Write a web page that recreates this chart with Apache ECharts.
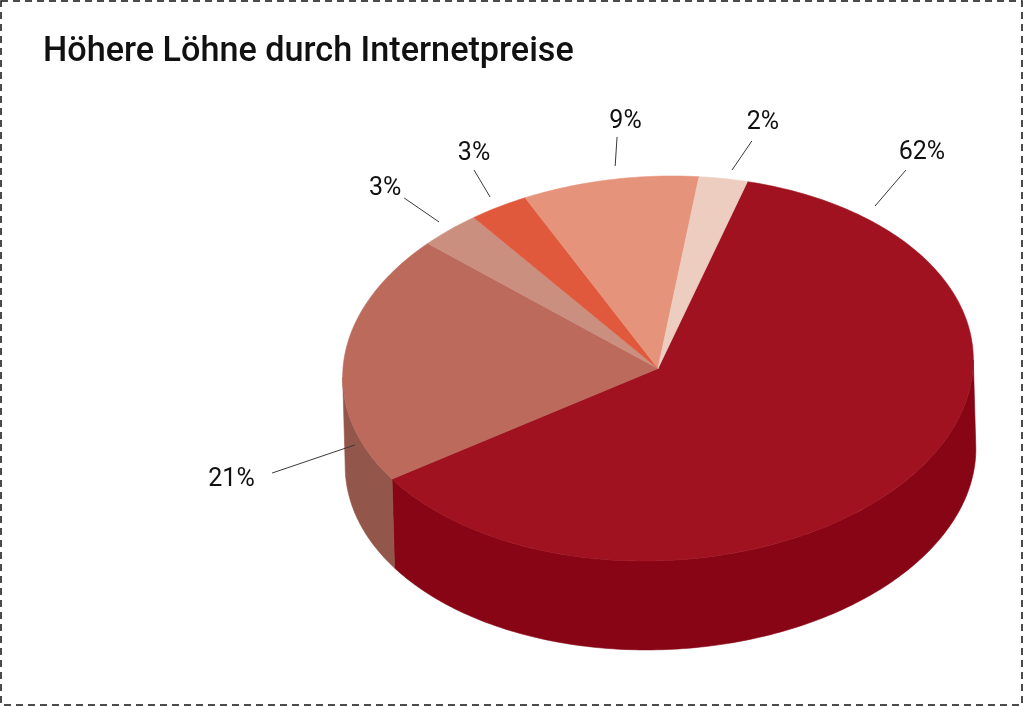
<!DOCTYPE html>
<html>
<head>
<meta charset="utf-8">
<style>html,body{margin:0;padding:0;background:#fff}#c{width:1024px;height:707px}</style>
<script src="https://cdn.jsdelivr.net/npm/echarts@6/dist/echarts.min.js"></script>
</head>
<body>
<div id="c"></div>
<script>
const titleText = 'Höhere Löhne durch Internetpreise';
const sliceValues = [61.4, 21, 3.1, 3, 9, 2.5];
const sliceLabels = ['62%', '21%', '3%', '3%', '9%', '2%'];
const topColors = ['#a01220', '#bb6a5c', '#cb8f80', '#e0593d', '#e5937a', '#eccdc0'];
const wallColors = ['#880516', '#93564a', '#a8766a', '#b84a33', '#bd7a65', '#c3a99e'];
// callout anchors in pie-radius units (x right, y up)
const leaderInner = [[.689,.844],[-.962,-.397],[-.695,.761],[-.533,.891],[-.136,1.052],[.235,1.031]];
const leaderOuter = [[.787,1.031],[-1.225,-.543],[-.806,.886],[-.584,1.031],[-.130,1.203],[.298,1.182]];
const labelAnchor = [[.838,1.120],[-1.354,-.579],[-.866,.933],[-.584,1.115],[-.103,1.281],[.333,1.276]];

const firstAngle = 13.9;      // degrees clockwise from the top
const depth = 0.462;          // wall height in y radius units
const skew = 0.008;           // bottom rim shift in x radius units
const shear = 0.045;          // tilt of the drawn ellipse
const total = sliceValues.reduce((a, b) => a + b, 0);
const starts = [];
sliceValues.reduce((acc, v, i) => { starts[i] = acc; return acc + v / total * 360; }, firstAngle);
const wallStart = 90 - Math.atan(shear) * 180 / Math.PI;

function rim(deg, lower) {
  const r = deg * Math.PI / 180;
  const x = Math.sin(r) + shear * Math.cos(r), y = Math.cos(r);
  return lower ? [x + skew, y - depth] : [x, y];
}
function arc(a, b, lower) {
  const pts = [];
  const n = Math.max(2, Math.ceil(Math.abs(b - a)));
  for (let i = 0; i <= n; i++) pts.push(rim(a + (b - a) * i / n, lower));
  return pts;
}
// front wall spans half a turn starting at the right-hand extreme of the rim
function wallRange(a, b) {
  for (const off of [0, 360]) {
    const s = Math.max(a, wallStart + off), e = Math.min(b, wallStart + 180 + off);
    if (e > s) return [s, e];
  }
  return null;
}
function poly(api, pts, color) {
  return { type: 'polygon', shape: { points: pts.map(p => api.coord(p)) },
    style: { fill: color, stroke: color, lineWidth: 0.6 } };
}

function renderWalls(params, api) {
  const i = params.dataIndex;
  const a = starts[i], b = a + sliceValues[i] / total * 360;
  const w = wallRange(a, b);
  if (!w) return { type: 'group', children: [] };
  return poly(api, arc(w[0], w[1], false).concat(arc(w[1], w[0], true)), wallColors[i]);
}
function renderTops(params, api) {
  const i = params.dataIndex;
  const a = starts[i], b = a + sliceValues[i] / total * 360;
  return poly(api, [[0, 0]].concat(arc(a, b, false)), topColors[i]);
}
function renderCallouts(params, api) {
  const i = params.dataIndex;
  const p = api.coord(labelAnchor[i]);
  const s = api.coord(leaderInner[i]), e = api.coord(leaderOuter[i]);
  return { type: 'group', children: [
    { type: 'line', shape: { x1: s[0], y1: s[1], x2: e[0], y2: e[1] },
      style: { stroke: '#3a3a3a', lineWidth: 1 } },
    { type: 'text', x: p[0], y: p[1],
      style: { text: sliceLabels[i], fill: '#111', font: '400 25px Roboto',
        textAlign: 'center', textVerticalAlign: 'middle' } }
  ] };
}

const chart = echarts.init(document.getElementById('c'), null, { renderer: 'canvas', width: 1024, height: 707 });
chart.setOption({
  animation: false,
  backgroundColor: '#fff',
  title: { text: titleText, left: 38, top: 30,
    textStyle: { fontFamily: 'Roboto', fontWeight: 500, fontSize: 34.2, color: '#111' } },
  grid: { left: 343, right: 51, top: 176, bottom: 146 },
  xAxis: { type: 'value', min: -1, max: 1, show: false },
  yAxis: { type: 'value', min: -1, max: 1, show: false },
  graphic: [{ type: 'rect', shape: { x: 1, y: 1, width: 1021, height: 704 }, silent: true,
    style: { fill: 'none', stroke: '#111', lineWidth: 1.5, lineDash: [7, 5] } }],
  series: [
    { type: 'custom', name: 'wall', clip: false, z: 2, renderItem: renderWalls, data: sliceValues },
    { type: 'custom', name: 'top', clip: false, z: 3, renderItem: renderTops, data: sliceValues },
    { type: 'custom', name: 'callouts', clip: false, z: 4, renderItem: renderCallouts, data: sliceValues }
  ]
});
</script>
</body>
</html>
